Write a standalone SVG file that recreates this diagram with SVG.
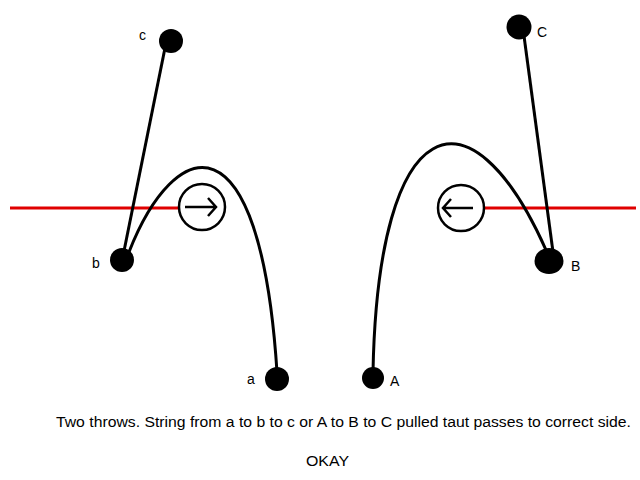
<svg xmlns="http://www.w3.org/2000/svg" width="640" height="480" viewBox="0 0 640 480">
<style>
.dot{fill:#000}
.str{fill:none;stroke:#000;stroke-width:3}
.red{stroke:#e00000;stroke-width:3}
.circ{fill:#fff;stroke:#000;stroke-width:2.5}
.arr{fill:none;stroke:#000;stroke-width:2.5}
.lbl{font-family:"Liberation Sans",Arial,sans-serif;font-size:14px;fill:#000}
.cap{font-family:"Liberation Sans",Arial,sans-serif;font-size:15.5px;fill:#000}
</style>
<rect width="640" height="480" fill="#fff"/>
<g id="redline">
<line class="red" x1="10" y1="208" x2="180" y2="208"/>
<line class="red" x1="484" y1="208" x2="636" y2="208"/>
</g>
<g id="connectors">
<line class="str" x1="165" y1="48" x2="123" y2="256"/>
<path class="str" d="M129,252 C175,135 260,110 277,372"/>
<line class="str" x1="524" y1="36" x2="553" y2="252"/>
<path class="str" d="M373,372 C378,110 470,80 546,250"/>
</g>
<g id="dir-left">
<circle class="circ" cx="202" cy="207" r="23"/>
<path class="arr" d="M185,207 H216 M208,198 L216,207 L208,216"/>
</g>
<g id="dir-right">
<circle class="circ" cx="461" cy="208" r="23"/>
<path class="arr" d="M473,208 H443 M451,199 L443,208 L451,217"/>
</g>
<g id="node-c"><circle class="dot" cx="171" cy="41" r="12"/><text class="lbl" x="139" y="40">c</text></g>
<g id="node-b"><circle class="dot" cx="122" cy="260" r="12"/><text class="lbl" x="92" y="268">b</text></g>
<g id="node-a"><circle class="dot" cx="277" cy="379" r="12"/><text class="lbl" x="247" y="384">a</text></g>
<g id="node-C"><circle class="dot" cx="519" cy="27" r="12.5"/><text class="lbl" x="537" y="37">C</text></g>
<g id="node-B"><ellipse class="dot" cx="549" cy="261" rx="14.5" ry="13"/><text class="lbl" x="571" y="271">B</text></g>
<g id="node-A"><circle class="dot" cx="373" cy="378" r="11"/><text class="lbl" x="390" y="386">A</text></g>
<text class="cap" x="56" y="427" textLength="575" lengthAdjust="spacingAndGlyphs">Two throws. String from a to b to c or A to B to C pulled taut passes to correct side.</text>
<text class="cap" x="306" y="466" textLength="43" lengthAdjust="spacingAndGlyphs">OKAY</text>
</svg>
